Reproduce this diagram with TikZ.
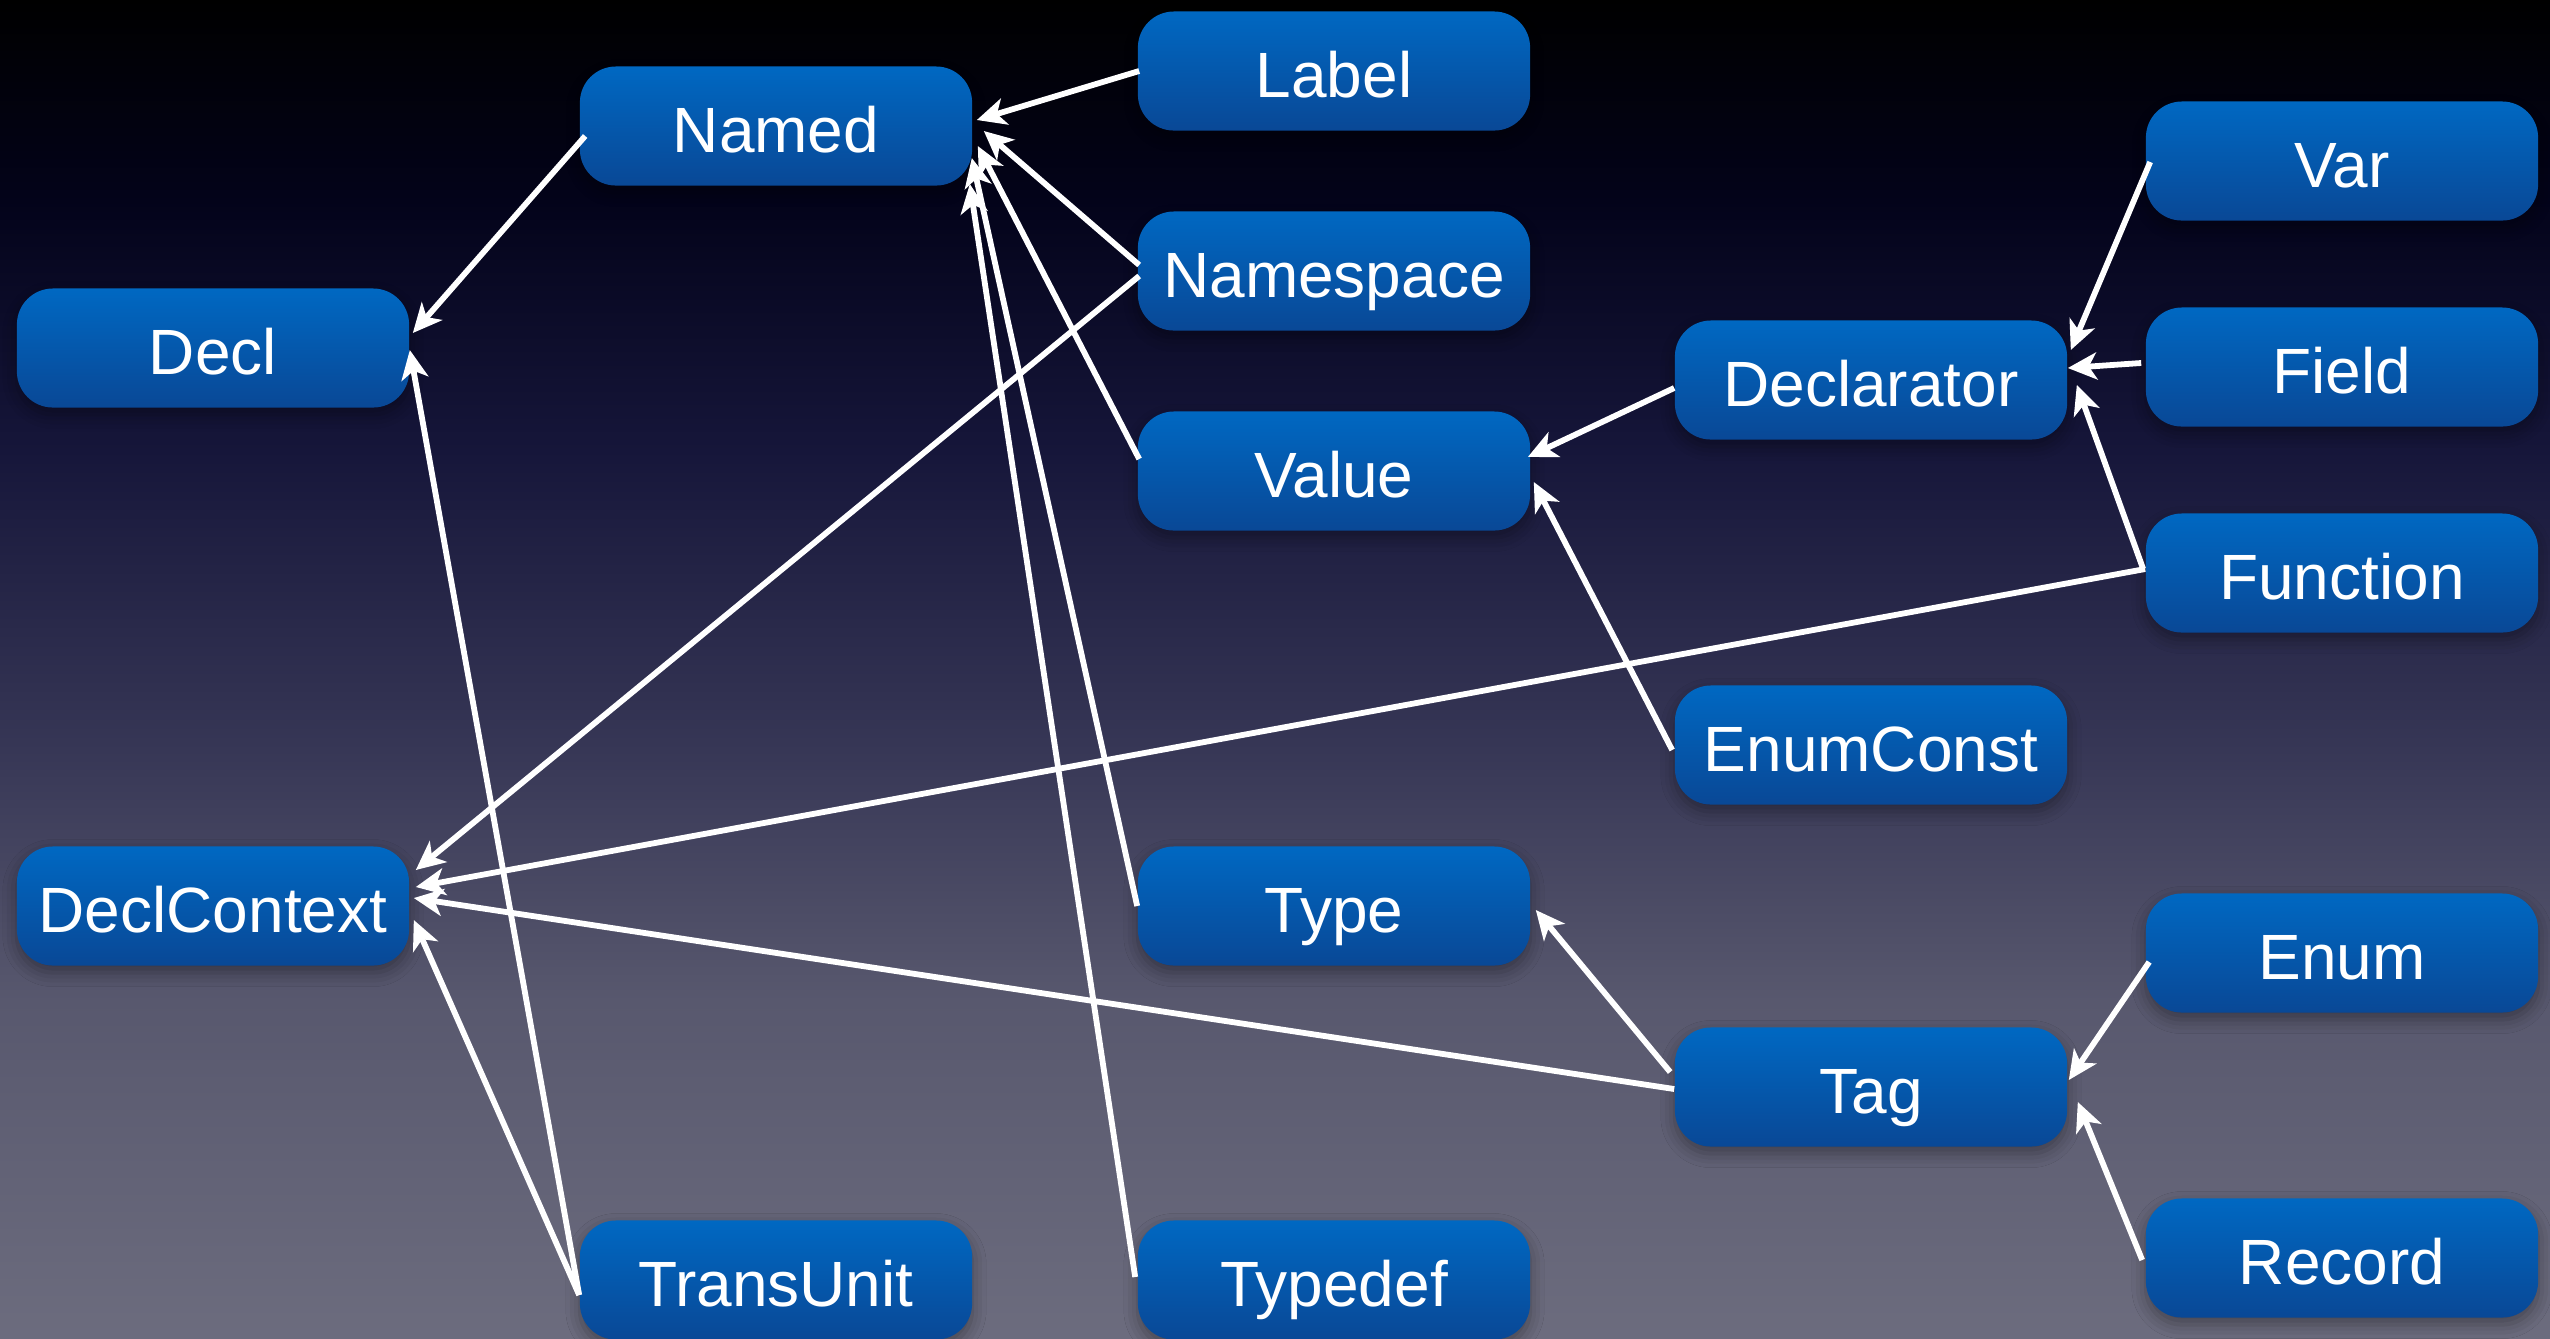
\documentclass[tikz,border=0pt]{standalone}
\usepackage{fontspec}
\setmainfont{Liberation Sans}
\usetikzlibrary{arrows.meta,shadows.blur}

% colours of the boxes and the backdrop
\definecolor{boxtop}{RGB}{0,104,194}
\definecolor{boxbot}{RGB}{9,72,150}
\definecolor{bg0}{RGB}{0,0,0}
\definecolor{bg1}{RGB}{3,3,26}
\definecolor{bg2}{RGB}{22,22,58}
\definecolor{bg3}{RGB}{55,55,86}
\definecolor{bg4}{RGB}{88,88,110}
\definecolor{bg5}{RGB}{108,108,126}

\tikzset{
  classbox/.style={
    rounded corners=0.36cm,
    minimum width=3.92cm, minimum height=1.19cm,
    text height=0.58cm, text depth=0.06cm, inner sep=0pt,
    top color=boxtop, bottom color=boxbot,
    text=white, font=\fontsize{18.2pt}{22pt}\selectfont,
    blur shadow={shadow xshift=0pt, shadow yshift=-2pt,
                 shadow blur radius=4pt, shadow opacity=35}
  },
  isa/.style={
    draw=white, line width=0.058cm,
    -{Stealth[length=0.29cm, width=0.27cm, inset=0.08cm]}
  }
}

\begin{document}
\begin{tikzpicture}[x=0.01cm, y=-0.01cm]
  \useasboundingbox (0,0) rectangle (2550,1338);

  % backdrop: black at the top fading to grey-violet at the bottom
  \fill[top color=bg0, bottom color=bg1] (0,0) rectangle (2550,201);
  \fill[top color=bg1, bottom color=bg2] (0,200) rectangle (2550,451);
  \fill[top color=bg2, bottom color=bg3] (0,450) rectangle (2550,751);
  \fill[top color=bg3, bottom color=bg4] (0,750) rectangle (2550,1001);
  \fill[top color=bg4, bottom color=bg5] (0,1000) rectangle (2550,1338);

  % classes
  \node[classbox] (named)      at (776,126)  {Named};
  \node[classbox] (label)      at (1334,71)  {Label};
  \node[classbox] (namespace)  at (1334,271) {Namespace};
  \node[classbox] (value)      at (1334,471) {Value};
  \node[classbox] (decl)       at (213,348)  {Decl};
  \node[classbox] (declctx)    at (213,906)  {DeclContext};
  \node[classbox] (transunit)  at (776,1280) {TransUnit};
  \node[classbox] (typedef)    at (1334,1280){Typedef};
  \node[classbox] (type)       at (1334,906) {Type};
  \node[classbox] (declarator) at (1871,380) {Declarator};
  \node[classbox] (enumconst)  at (1871,745) {EnumConst};
  \node[classbox] (tag)        at (1871,1087){Tag};
  \node[classbox] (var)        at (2342,161) {Var};
  \node[classbox] (field)      at (2342,367) {Field};
  \node[classbox] (function)   at (2342,573) {Function};
  \node[classbox] (enum)       at (2342,953) {Enum};
  \node[classbox] (record)     at (2342,1258){Record};

  % inheritance arrows, child -> parent
  \draw[isa] ([shift={(6,10)}]named.west)      -- ([shift={(3,-15)}]decl.east);
  \draw[isa] ([shift={(2,0)}]label.west)       -- ([shift={(4,-6)}]named.east);
  \draw[isa] ([shift={(2,-6)}]namespace.west)  -- ([shift={(11,5)}]named.east);
  \draw[isa] ([shift={(2,5)}]namespace.west)   -- ([shift={(6,-36)}]declctx.east);
  \draw[isa] ([shift={(2,-12)}]value.west)     -- ([shift={(5,20)}]named.east);
  \draw[isa] ([shift={(0,0)}]type.west)        -- ([shift={(-1,32)}]named.east);
  \draw[isa] ([shift={(-2,-3)}]typedef.west)   -- ([shift={(-3,58)}]named.east);
  \draw[isa] ([shift={(0,15)}]transunit.west)  -- ([shift={(0,2)}]decl.east);
  \draw[isa] ([shift={(0,15)}]transunit.west)  -- ([shift={(4,14)}]declctx.east);
  \draw[isa] ([shift={(0,-4)}]function.west)   -- ([shift={(6,-19)}]declctx.east);
  \draw[isa] ([shift={(0,2)}]tag.west)         -- ([shift={(4,-8)}]declctx.east);
  \draw[isa] ([shift={(-4,-15)}]tag.west)      -- ([shift={(5,4)}]type.east);
  \draw[isa] ([shift={(0,8)}]declarator.west)  -- ([shift={(-3,-14)}]value.east);
  \draw[isa] ([shift={(-2,5)}]enumconst.west)  -- ([shift={(3,11)}]value.east);
  \draw[isa] ([shift={(5,1)}]var.west)         -- ([shift={(3,-30)}]declarator.east);
  \draw[isa] ([shift={(-4,-4)}]field.west)     -- ([shift={(0,-12)}]declarator.east);
  \draw[isa] ([shift={(-2,-4)}]function.west)  -- ([shift={(9,5)}]declarator.east);
  \draw[isa] ([shift={(4,9)}]enum.west)        -- ([shift={(1,-7)}]tag.east);
  \draw[isa] ([shift={(-3,2)}]record.west)     -- ([shift={(10,15)}]tag.east);
\end{tikzpicture}
\end{document}
